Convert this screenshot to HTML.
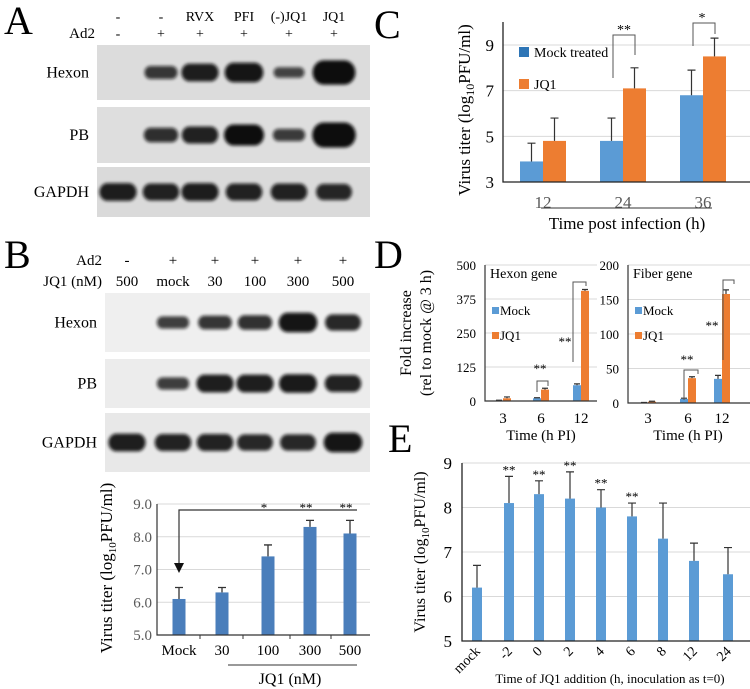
<!DOCTYPE html>
<html><head><meta charset="utf-8"><style>
body{margin:0;background:#fff}
svg{display:block;font-family:"Liberation Serif",serif}
</style></head><body>
<svg id="fig" width="750" height="689" viewBox="0 0 750 689" xmlns="http://www.w3.org/2000/svg">
<defs>
<filter id="blur" x="-20%" y="-50%" width="140%" height="200%"><feGaussianBlur stdDeviation="1.6"/></filter>
</defs>
<g id="panelA"></g>
<g id="panelB"></g>
<g id="panelBchart"></g>
<g id="panelC"></g>
<g id="panelD"></g>
<g id="panelE"></g>
</svg>
<script>
// ---- data ----
const aTreat = ["-","-","RVX","PFI","(-)JQ1","JQ1"];
const aAd2 = ["-","+","+","+","+","+"];
const aHexon = [0,0.5,0.8,0.9,0.35,1.2];
const aPB = [0,0.6,0.75,1.0,0.45,1.25];
const aGAPDH = [0.8,0.75,0.8,0.75,0.75,0.7];
const bAd2 = ["-","+","+","+","+","+"];
const bJQ1 = ["500","mock","30","100","300","500"];
const bHexon = [0,0.45,0.55,0.6,0.9,0.7];
const bPB = [0,0.45,0.8,0.8,0.85,0.75];
const bGAPDH = [0.8,0.75,0.75,0.7,0.7,0.9];
const bCats = ["Mock","30","100","300","500"];
const bVals = [6.1,6.3,7.4,8.3,8.1];
const bErr = [0.35,0.15,0.35,0.2,0.4];
const bStars = ["","","*","**","**"];
const bTicks = ["5.0","6.0","7.0","8.0","9.0"];
const cCats = ["12","24","36"];
const cMock = [3.9,4.8,6.8];
const cJQ1 = [4.8,7.1,8.5];
const cMockErr = [0.8,1.0,1.1];
const cJQ1Err = [1.0,0.9,0.8];
const cTicks = [3,5,7,9];
const dCats = ["3","6","12"];
const dHexMock = [2,10,58];
const dHexJQ1 = [10,42,405];
const dHexMockErr = [1,2,5];
const dHexJQ1Err = [5,5,5];
const dHexTicks = [0,125,250,375,500];
const dFibMock = [0.5,6,35];
const dFibJQ1 = [2,36,158];
const dFibMockErr = [0.3,1,5];
const dFibJQ1Err = [0.5,2,6];
const dFibTicks = [0,50,100,150,200];
const eCats = ["mock","-2","0","2","4","6","8","12","24"];
const eVals = [6.2,8.1,8.3,8.2,8.0,7.8,7.3,6.8,6.5];
const eErr = [0.5,0.6,0.3,0.6,0.4,0.3,0.8,0.4,0.6];
const eStars = ["","**","**","**","**","**","","",""];
const eTicks = [5,6,7,8,9];

const NS="http://www.w3.org/2000/svg";
function mk(parent,tag,attrs,text){const e=document.createElementNS(NS,tag);for(const k in attrs)e.setAttribute(k,attrs[k]);if(text!==undefined)e.textContent=text;parent.appendChild(e);return e;}
const BLUE="#5b9bd5",ORANGE="#ed7d31",DBLUE="#4a7ebb";

// ---- Panel A ----
const A=document.getElementById('panelA');
let t=mk(A,'text',{x:4,y:34,'font-size':40});t.textContent='A';


const aX=[118,161,200,244,289,334];
aTreat.forEach((s,i)=>{let e=mk(A,'text',{x:aX[i],y:21,'font-size':14,'text-anchor':'middle'},s);

});
aAd2.forEach((s,i)=>{let e=mk(A,'text',{x:aX[i],y:38,'font-size':14,'text-anchor':'middle'},s);

});
t=mk(A,'text',{x:95,y:38,'font-size':15,'text-anchor':'end'},'Ad2');


function blot(g,x0,x1,y0,y1,bg,lanes,vals,label,name,bw){
  let r=mk(g,'rect',{x:x0,y:y0,width:x1-x0,height:y1-y0,fill:bg});
  
  
  const cy=(y0+y1)/2;
  vals.forEach((v,i)=>{if(v<=0)return;const rx=13+7*v,ry=2.5+8*v;
  let b=mk(g,'rect',{x:lanes[i]-rx,y:cy-ry,width:2*rx,height:2*ry,rx:ry*0.9,ry:ry,fill:'#0a0a0a',opacity:Math.min(1,0.6+0.4*v),filter:'url(#blur)'});
  
  });
  let l=mk(g,'text',{x:x0-8,y:cy+5,'font-size':16,'text-anchor':'end'},label);
  
  
}
blot(A,97,370,45,100,'#dcdcdc',aX,aHexon,'Hexon','a-hexon',18);
blot(A,97,370,107,163,'#dedede',aX,aPB,'PB','a-pb',18);
blot(A,97,370,167,217,'#dadada',aX,aGAPDH,'GAPDH','a-gapdh',18);

// ---- Panel B blots ----
const B=document.getElementById('panelB');
t=mk(B,'text',{x:4,y:268,'font-size':40},'B');


const bX=[127,173,215,255,298,343];
t=mk(B,'text',{x:102,y:265,'font-size':15,'text-anchor':'end'},'Ad2');


t=mk(B,'text',{x:102,y:286,'font-size':15,'text-anchor':'end'},'JQ1 (nM)');


bAd2.forEach((s,i)=>{let e=mk(B,'text',{x:bX[i],y:265,'font-size':15,'text-anchor':'middle'},s);

});
bJQ1.forEach((s,i)=>{let e=mk(B,'text',{x:bX[i],y:286,'font-size':15,'text-anchor':'middle'},s);

});
blot(B,105,370,293,352,'#efefef',bX,bHexon,'Hexon','b-hexon',18);
blot(B,105,370,359,408,'#ececec',bX,bPB,'PB','b-pb',18);
blot(B,105,370,413,472,'#e8e8e8',bX,bGAPDH,'GAPDH','b-gapdh',19);

// ---- Panel B chart ----
const BC=document.getElementById('panelBchart');
const bx0=157,bx1=370,byTop=504,byBot=635;
const by=v=>byBot-(v-5)/4*(byBot-byTop);
const bCx=[179,222,268,310,350];
bTicks.forEach(s=>{const v=parseFloat(s);
 if(v>5){let g=mk(BC,'line',{x1:bx0,x2:bx1,y1:by(v),y2:by(v),stroke:'#d9d9d9','stroke-width':1});}
 let e=mk(BC,'text',{x:bx0-5,y:by(v)+5,'font-size':15,'text-anchor':'end',fill:'#595959'},s);
 
 });
bVals.forEach((v,i)=>{const x=bCx[i];
 let r=mk(BC,'rect',{x:x-6.5,y:by(v),width:13,height:byBot-by(v),fill:DBLUE});
 
 
 const ye=by(v+bErr[i]);
 let el=mk(BC,'path',{d:`M${x} ${by(v)}V${ye}M${x-4} ${ye}H${x+4}`,stroke:'#333','stroke-width':1.3,fill:'none'});
 
 
 let lab=mk(BC,'text',{x:x,y:655,'font-size':15,'text-anchor':'middle'},bCats[i]);
 
 
 if(bStars[i]){let s=mk(BC,'text',{x:x-4,y:512,'font-size':13,'text-anchor':'middle'},bStars[i]);}
});
t=mk(BC,'path',{d:`M${bx0} ${byTop}V${byBot}H${bx1}`,stroke:'#333',fill:'none','stroke-width':1.2});


[200,243,290,331].forEach(x=>{let k=mk(BC,'line',{x1:x,x2:x,y1:byBot,y2:byBot+4,stroke:'#333'});});
t=mk(BC,'path',{d:`M357 510H${bCx[0]}V566`,stroke:'#333',fill:'none','stroke-width':1.2});


t=mk(BC,'path',{d:`M${bCx[0]-5} 563L${bCx[0]} 573L${bCx[0]+5} 563Z`,fill:'#111'});


t=mk(BC,'line',{x1:228,x2:357,y1:665,y2:665,stroke:'#333'});


t=mk(BC,'text',{x:290,y:684,'font-size':16,'text-anchor':'middle'},'JQ1 (nM)');


t=mk(BC,'text',{x:0,y:0,'font-size':17,'text-anchor':'middle',transform:'translate(112 568) rotate(-90)'});
t.innerHTML='Virus titer (log<tspan font-size="11" dy="4">10</tspan><tspan dy="-4">PFU/ml)</tspan>';



// ---- Panel C ----
const C=document.getElementById('panelC');
t=mk(C,'text',{x:374,y:38,'font-size':40},'C');


const cx0=503,cx1=750,cyB=182,cyT=45;
const cy=v=>cyB-(v-3)/6*(cyB-cyT);
const cCx=[543,623,703];
cTicks.forEach(v=>{
 if(v>3){let g=mk(C,'line',{x1:cx0,x2:cx1,y1:cy(v),y2:cy(v),stroke:'#d9d9d9'});}
 let e=mk(C,'text',{x:cx0-9,y:cy(v)+6,'font-size':17,'text-anchor':'end'},v);
 
 });
function ebar(g,x,v,e,yf,w){const y=yf(v),ye=yf(v+e);let p=mk(g,'path',{d:`M${x} ${y}V${ye}M${x-w} ${ye}H${x+w}`,stroke:'#333','stroke-width':1.2,fill:'none'});
 
 }
cCats.forEach((c,i)=>{const x=cCx[i];
 let r=mk(C,'rect',{x:x-23,y:cy(cMock[i]),width:23,height:cyB-cy(cMock[i]),fill:BLUE});
 
 
 r=mk(C,'rect',{x:x,y:cy(cJQ1[i]),width:23,height:cyB-cy(cJQ1[i]),fill:ORANGE});
 
 
 ebar(C,x-11.5,cMock[i],cMockErr[i],cy,4);
 ebar(C,x+11.5,cJQ1[i],cJQ1Err[i],cy,4);
 let l=mk(C,'text',{x:x,y:208,'font-size':17,'text-anchor':'middle',fill:'#595959'},c);
 
 });
t=mk(C,'path',{d:`M${cx0} 22V${cyB}H${cx1}`,stroke:'#222',fill:'none','stroke-width':1.3});


t=mk(C,'line',{x1:541,x2:712,y1:208,y2:208,stroke:'#333'});


t=mk(C,'text',{x:627,y:229,'font-size':17,'text-anchor':'middle'},'Time post infection (h)');


t=mk(C,'text',{x:0,y:0,'font-size':17,'text-anchor':'middle',transform:'translate(470 110) rotate(-90)'});
t.innerHTML='Virus titer (log<tspan font-size="12" dy="4">10</tspan><tspan dy="-4">PFU/ml)</tspan>';


t=mk(C,'rect',{x:519,y:47,width:10,height:10,fill:'#2e75b6'});


t=mk(C,'text',{x:534,y:57,'font-size':14},'Mock treated');


t=mk(C,'rect',{x:519,y:79,width:10,height:10,fill:ORANGE});


t=mk(C,'text',{x:534,y:89,'font-size':14},'JQ1');


t=mk(C,'path',{d:'M613 78V35H635V55',stroke:'#555',fill:'none'});


t=mk(C,'text',{x:624,y:34,'font-size':14,'text-anchor':'middle'},'**');


t=mk(C,'path',{d:'M693 46V23H715V34',stroke:'#555',fill:'none'});


t=mk(C,'text',{x:702,y:22,'font-size':14,'text-anchor':'middle'},'*');



// ---- Panel D ----
const D=document.getElementById('panelD');
t=mk(D,'text',{x:374,y:268,'font-size':40},'D');


function dChart(x0,x1,yT,yB,max,ticks,cxs,mock,jq,mErr,jErr,title,name,brackets){
 const yf=v=>yB-v/max*(yB-yT);
 ticks.forEach(v=>{
  if(v>0){let g=mk(D,'line',{x1:x0,x2:x1,y1:yf(v),y2:yf(v),stroke:'#d9d9d9'});}
  let e=mk(D,'text',{x:x0-9,y:yf(v)+5,'font-size':13,'text-anchor':'end'},v);
  
  });
 dCats.forEach((c,i)=>{const x=cxs[i];
  let r=mk(D,'rect',{x:x-8,y:yf(mock[i]),width:8,height:yB-yf(mock[i]),fill:BLUE});
  
  
  r=mk(D,'rect',{x:x,y:yf(jq[i]),width:8,height:yB-yf(jq[i]),fill:ORANGE});
  
  
  ebar(D,x-4,mock[i],mErr[i],yf,3);
  ebar(D,x+4,jq[i],jErr[i],yf,3);
  let l=mk(D,'text',{x:x,y:423,'font-size':15,'text-anchor':'middle'},c);
  
  });
 let a=mk(D,'path',{d:`M${x0} ${yT}V${yB}H${x1}`,stroke:'#333',fill:'none','stroke-width':1.2});
 
 
 let tt=mk(D,'text',{x:x0+5,y:yT+13,'font-size':14},title);
 
 
 let s=mk(D,'rect',{x:x0+7,y:yT+42,width:7,height:7,fill:BLUE});
 
 
 tt=mk(D,'text',{x:x0+15,y:yT+50,'font-size':13},'Mock');
 
 
 s=mk(D,'rect',{x:x0+7,y:yT+67,width:7,height:7,fill:ORANGE});
 
 
 tt=mk(D,'text',{x:x0+15,y:yT+75,'font-size':13},'JQ1');
 
 
 let ax=mk(D,'text',{x:cxs[1],y:440,'font-size':15,'text-anchor':'middle'},'Time (h PI)');
 
 
 brackets.forEach(b=>{
  let p=mk(D,'path',{d:b.d,stroke:'#555',fill:'none'});
  
  
  let st=mk(D,'text',{x:b.sx,y:b.sy,'font-size':13,'text-anchor':'middle'},'**');
  
  });
}
dChart(485,597,265,401,500,dHexTicks,[541-38,541,581],dHexMock,dHexJQ1,dHexMockErr,dHexJQ1Err,'Hexon gene','hexon',
 [{d:'M537 392V381H548V386',sx:540,sy:373},{d:'M573 362V282H586V286',sx:565,sy:346}]);
dChart(628,750,265,403,200,dFibTicks,[648,688,722],dFibMock,dFibJQ1,dFibMockErr,dFibJQ1Err,'Fiber gene','fiber',
 [{d:'M684 400V370H698V374',sx:687,sy:364},{d:'M723 360V280H734V284',sx:712,sy:330}]);
t=mk(D,'text',{x:0,y:0,'font-size':16,'text-anchor':'middle',transform:'translate(411 333) rotate(-90)'},'Fold increase');


t=mk(D,'text',{x:0,y:0,'font-size':16,'text-anchor':'middle',transform:'translate(431 333) rotate(-90)'},'(rel to mock @ 3 h)');



// ---- Panel E ----
const E=document.getElementById('panelE');
t=mk(E,'text',{x:388,y:452,'font-size':40},'E');


const ex0=462,ex1=750,eyT=463,eyB=641;
const ey=v=>eyB-(v-5)/4*(eyB-eyT);
const eCx=[477,509,539,570,601,632,663,694,728];
eTicks.forEach(v=>{
 if(v>5){let g=mk(E,'line',{x1:ex0,x2:ex1,y1:ey(v),y2:ey(v),stroke:'#d9d9d9'});}
 let e=mk(E,'text',{x:ex0-10,y:ey(v)+6,'font-size':17,'text-anchor':'end'},v);
 
 });
eVals.forEach((v,i)=>{const x=eCx[i];
 let r=mk(E,'rect',{x:x-5,y:ey(v),width:10,height:eyB-ey(v),fill:BLUE});
 
 
 ebar(E,x,v,eErr[i],ey,4);
 let l=mk(E,'text',{x:0,y:0,'font-size':14,'text-anchor':'end',transform:`translate(${x+4} ${652}) rotate(-45)`},eCats[i]);
 
 
 if(eStars[i]){let s=mk(E,'text',{x:x,y:ey(v+eErr[i])-2,'font-size':13,'text-anchor':'middle'},eStars[i]);}
});
t=mk(E,'path',{d:`M${ex0} ${eyT}V${eyB}H${ex1}`,stroke:'#222',fill:'none','stroke-width':1.3});


t=mk(E,'text',{x:610,y:683,'font-size':13,'text-anchor':'middle'},'Time of JQ1 addition (h, inoculation as t=0)');


t=mk(E,'text',{x:0,y:0,'font-size':16,'text-anchor':'middle',transform:'translate(425 552) rotate(-90)'});
t.innerHTML='Virus titer (log<tspan font-size="11" dy="4">10</tspan><tspan dy="-4">PFU/ml)</tspan>';


</script>
</body></html>
